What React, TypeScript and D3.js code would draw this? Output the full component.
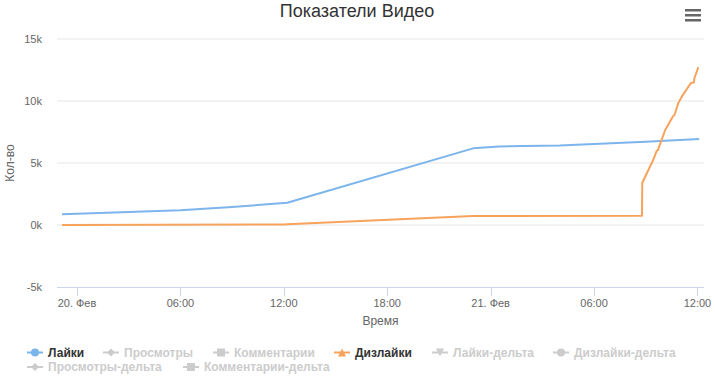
import React from "react";
import * as d3 from "d3";

const TITLE = "Показатели Видео";
const Y_TITLE = "Кол-во";
const X_TITLE = "Время";
const Y_TICKS = [-5000, 0, 5000, 10000, 15000];
const X_TICKS = ["2018-02-20T00:00", "2018-02-20T06:00", "2018-02-20T12:00", "2018-02-20T18:00", "2018-02-21T00:00", "2018-02-21T06:00", "2018-02-21T12:00"];

const BASE = new Date("2018-02-20T00:00").getTime();
// hours offset from 20 Feb 00:00
const LIKES_H = [-0.87, 3, 6, 9, 12.2, 22.98, 24.5, 28, 31, 33, 36.1];
const LIKES_V = [860, 1050, 1180, 1450, 1800, 6180, 6330, 6420, 6600, 6720, 6935];
const DISLIKES_H = [-0.87, 12, 12.2, 22.98, 32.78, 32.8, 33.43, 33.64, 33.72, 33.74, 34.13, 34.59, 34.66, 34.71, 34.88, 35.09, 35.61, 35.8, 35.82, 36.05];
const DISLIKES_V = [0, 50, 60, 725, 750, 3410, 5240, 6000, 6050, 6180, 7660, 8790, 8850, 9050, 9810, 10350, 11430, 11510, 11830, 12720];

const LEGEND = [
  { name: "Лайки", symbol: "circle", color: "#7cb5ec", visible: true, row: 0, x: 27 },
  { name: "Просмотры", symbol: "diamond", color: "#cccccc", visible: false, row: 0, x: 103 },
  { name: "Комментарии", symbol: "square", color: "#cccccc", visible: false, row: 0, x: 213 },
  { name: "Дизлайки", symbol: "triangle", color: "#f7a35c", visible: true, row: 0, x: 334 },
  { name: "Лайки-дельта", symbol: "triangle-down", color: "#cccccc", visible: false, row: 0, x: 432 },
  { name: "Дизлайки-дельта", symbol: "circle", color: "#cccccc", visible: false, row: 0, x: 553 },
  { name: "Просмотры-дельта", symbol: "diamond", color: "#cccccc", visible: false, row: 1, x: 27 },
  { name: "Комментарии-дельта", symbol: "square", color: "#cccccc", visible: false, row: 1, x: 183 },
];

const W = 715;
const H = 383;
const PL = 57, PR = 704, PT = 39, PB = 287;
const FONT = "'Liberation Sans', Arial, sans-serif";

function tFromH(h: number) {
  return new Date(BASE + h * 3600 * 1000);
}

function symbolPath(type: string, cx: number, cy: number) {
  const r = 4;
  switch (type) {
    case "circle":
      return `M${cx - r},${cy}a${r},${r} 0 1,0 ${2 * r},0a${r},${r} 0 1,0 ${-2 * r},0`;
    case "diamond":
      return `M${cx},${cy - r}L${cx + r},${cy}L${cx},${cy + r}L${cx - r},${cy}Z`;
    case "square":
      return `M${cx - r},${cy - r}h${2 * r}v${2 * r}h${-2 * r}Z`;
    case "triangle":
      return `M${cx},${cy - r}L${cx + r},${cy + r}L${cx - r},${cy + r}Z`;
    case "triangle-down":
      return `M${cx - r},${cy - r}L${cx + r},${cy - r}L${cx},${cy + r}Z`;
  }
  return "";
}

function fmtTick(d: Date) {
  if (d.getHours() === 0) return `${d.getDate()}. Фев`;
  return d3.timeFormat("%H:%M")(d);
}

export default function App() {
  const x = d3.scaleTime().domain([tFromH(-1.16), tFromH(36.38)]).range([PL, PR]);
  const y = d3.scaleLinear().domain([-5000, 15000]).range([PB, PT]);
  const line = d3
    .line<[Date, number]>()
    .x((d) => x(d[0]))
    .y((d) => y(d[1]));
  const likes: [Date, number][] = LIKES_H.map((h, i) => [tFromH(h), LIKES_V[i]]);
  const dislikes: [Date, number][] = DISLIKES_H.map((h, i) => [tFromH(h), DISLIKES_V[i]]);
  const xTicks = X_TICKS.map((s) => new Date(s));

  return (
    <svg width={W} height={H} style={{ position: "absolute", left: 0, top: 0, fontFamily: FONT }}>
      <rect width={W} height={H} fill="#fff" />
      <text x={357} y={17} textAnchor="middle" fontSize={18} fill="#333">{TITLE}</text>
      {/* menu */}
      {[0, 5, 10].map((o) => (
        <rect key={o} x={685} y={9 + o} width={16} height={2.5} fill="#666" />
      ))}
      {/* grid */}
      {Y_TICKS.map((v) => (
        <g key={v}>
          {v !== -5000 && <line x1={PL} x2={PR} y1={y(v)} y2={y(v)} stroke="#e6e6e6" />}
          <text x={42} y={y(v) + 4} textAnchor="end" fontSize={11} fill="#666">{`${v / 1000}k`}</text>
        </g>
      ))}
      {/* x axis */}
      <line x1={PL} x2={PR} y1={PB + 0.5} y2={PB + 0.5} stroke="#ccd6eb" />
      {xTicks.map((t, i) => (
        <g key={i}>
          <line x1={Math.round(x(t)) + 0.5} x2={Math.round(x(t)) + 0.5} y1={PB} y2={PB + 9} stroke="#ccd6eb" />
          <text x={x(t)} y={PB + 20} textAnchor="middle" fontSize={11} fill="#666">{fmtTick(t)}</text>
        </g>
      ))}
      <text x={(PL + PR) / 2} y={325} textAnchor="middle" fontSize={12} fill="#666">{X_TITLE}</text>
      <text transform={`translate(14,${(PT + PB) / 2}) rotate(-90)`} textAnchor="middle" fontSize={12} fill="#666">{Y_TITLE}</text>
      {/* series */}
      <path d={line(likes) || ""} fill="none" stroke="#7cb5ec" strokeWidth={2} strokeLinejoin="round" />
      <path d={line(dislikes) || ""} fill="none" stroke="#f7a35c" strokeWidth={2} strokeLinejoin="round" />
      {/* legend */}
      {LEGEND.map((l, i) => {
        const cy = l.row === 0 ? 352.5 : 367;
        return (
          <g key={i}>
            <line x1={l.x} x2={l.x + 16} y1={cy} y2={cy} stroke={l.color} strokeWidth={2} />
            <path d={symbolPath(l.symbol, l.x + 8, cy)} fill={l.color} />
            <text x={l.x + 21} y={cy + 4} fontSize={12} fontWeight="bold" fill={l.visible ? "#333" : "#cccccc"}>{l.name}</text>
          </g>
        );
      })}
      <text x={702} y={390} textAnchor="end" fontSize={9} fill="#999">Highcharts.com</text>
    </svg>
  );
}
